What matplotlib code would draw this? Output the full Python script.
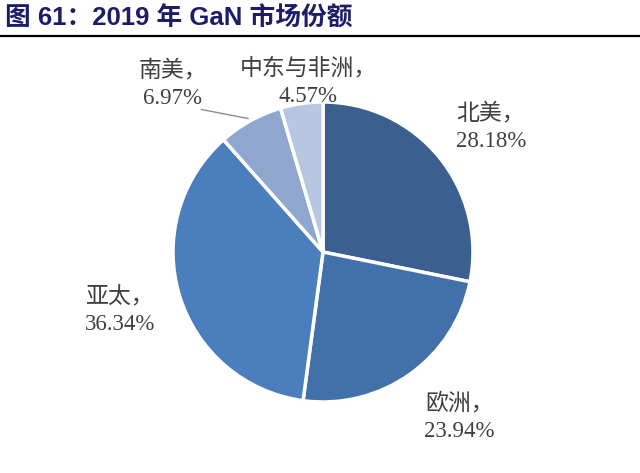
import matplotlib
matplotlib.use('Agg')
import matplotlib.pyplot as plt

# data
regions = ['北美', '欧洲', '亚太', '南美', '中东与非洲']
shares = [28.18, 23.94, 36.34, 6.97, 4.57]
colors = ['#3B5F8E', '#4271A9', '#4B7EBC', '#8FA7CF', '#B8C7E1']

# label positions in pie units (radius = 1)
label_pos = [(1.12, 0.83), (0.91, -1.1), (-1.35, -0.39), (-1.0, 1.12), (-0.1, 1.13)]

plt.rcParams['font.family'] = ['Liberation Serif', 'Noto Sans CJK SC']

fig = plt.figure(figsize=(6.4, 4.73), dpi=100)
ax = fig.add_axes([173 / 640, 71 / 473, 300 / 640, 300 / 473])

ax.pie(shares, colors=colors, startangle=90, counterclock=False,
       radius=1.0, wedgeprops=dict(edgecolor='white', linewidth=2.5))

for name, val, (x, y) in zip(regions, shares, label_pos):
    ax.text(x, y, f'{name}，\n{val:.2f}%', ha='center', va='center',
            fontsize=16.5, color='#404040', linespacing=1.4)

# leader line for 南美
ax.plot([-0.81, -0.5], [0.95, 0.89], color='#8c8c8c', lw=1)

ax.set_xlim(-1, 1)
ax.set_ylim(-1, 1)
ax.set_aspect('equal')
ax.axis('off')

fig.text(5 / 640, 1 - 18 / 473, '图 61：2019 年 GaN 市场份额', ha='left', va='center',
         fontsize=18.5, fontweight='bold', color='#1C1C6B',
         family=['Liberation Sans', 'Noto Sans CJK SC'])
fig.add_artist(plt.Line2D([0, 1], [1 - 36 / 473, 1 - 36 / 473], color='black', lw=1.6))

fig.savefig('out.png', dpi=100)
